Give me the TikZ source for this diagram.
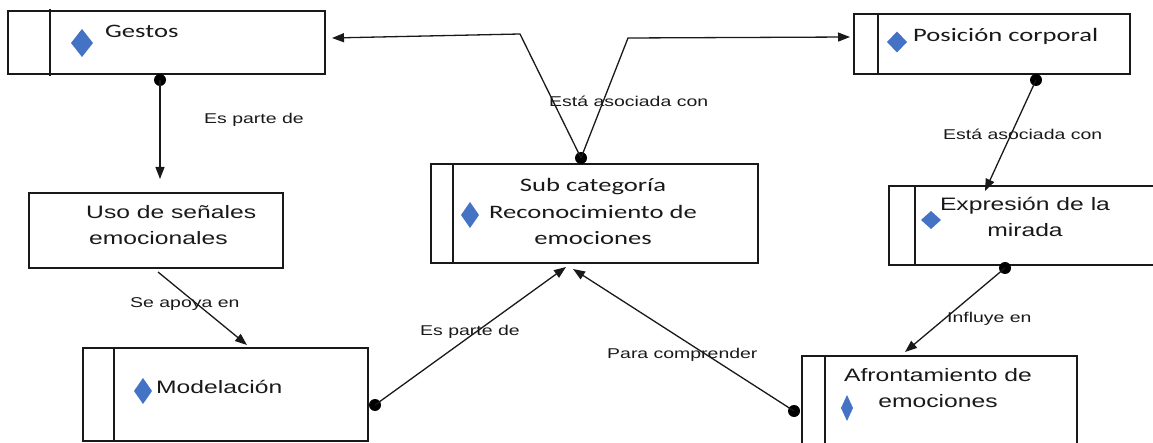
\documentclass[tikz,border=0pt]{standalone}
\usepackage{fontspec}
\usetikzlibrary{arrows.meta,shapes.geometric}
\newfontfamily\calw[FakeStretch=1.4]{Carlito}
\newfontfamily\arw[FakeStretch=1.37]{Liberation Sans}
\definecolor{dblue}{RGB}{68,114,196}
\definecolor{ink}{RGB}{25,25,25}
\begin{document}
\begin{tikzpicture}[x=1pt,y=-1pt,
  box/.style={draw=ink, line width=1.5pt, rectangle, inner sep=0pt, outer sep=0pt, anchor=north west},
  sep/.style={draw=ink, line width=1.5pt},
  gem/.style={diamond, fill=dblue, inner sep=0pt, outer sep=0pt},
  dot/.style={circle, fill=black, inner sep=0pt, minimum size=12pt},
  conn/.style={draw=ink, line width=1.3pt},
  arr/.style={conn, -{Triangle[length=12pt,width=9pt]}},
  lbl/.style={font=\arw\fontsize{14.2}{17}\selectfont, inner sep=0pt, text=ink, anchor=base west},
  cbtxt/.style={font=\calw\fontsize{19}{26.5}\selectfont, inner sep=0pt, text=ink},
  abtxt/.style={font=\arw\fontsize{18}{26}\selectfont, inner sep=0pt, text=ink}
]
\useasboundingbox (0,0) rectangle (1153,443);

% boxes
\node[box, minimum width=317pt, minimum height=63pt] (gestos) at (8,11) {};
\node[box, minimum width=276pt, minimum height=60pt] (posicion) at (854,14) {};
\node[box, minimum width=327pt, minimum height=99pt] (sub) at (431,164) {};
\node[box, minimum width=254pt, minimum height=75pt] (uso) at (29,193) {};
\node[box, minimum width=285pt, minimum height=93pt] (model) at (83,348) {};
\node[box, minimum width=280pt, minimum height=79pt] (expr) at (889,186) {};
\node[box, minimum width=275pt, minimum height=110pt] (afront) at (802,356) {};

% inner separators
\draw[sep] ([xshift=42pt,yshift=2pt]gestos.north west) -- ([xshift=42pt,yshift=-2pt]gestos.south west);
\draw[sep] ([xshift=24pt]posicion.north west) -- ([xshift=24pt]posicion.south west);
\draw[sep] ([xshift=22pt]sub.north west) -- ([xshift=22pt]sub.south west);
\draw[sep] ([xshift=31pt]model.north west) -- ([xshift=31pt]model.south west);
\draw[sep] ([xshift=26pt]expr.north west) -- ([xshift=26pt]expr.south west);
\draw[sep] ([xshift=23pt]afront.north west) -- ([xshift=23pt]afront.south west);

% diamonds
\node[gem, minimum width=22pt, minimum height=28pt] (gm1) at (82,43) {};
\node[gem, minimum width=20pt, minimum height=21pt] (gm2) at (897,42) {};
\node[gem, minimum width=18pt, minimum height=26pt] (gm3) at (470,215) {};
\node[gem, minimum width=18pt, minimum height=26pt] (gm4) at (143,391) {};
\node[gem, minimum width=20pt, minimum height=18pt] (gm5) at (931,220) {};
\node[gem, minimum width=12pt, minimum height=26pt] (gm6) at (847,408) {};

% box texts (base anchor = baseline of last line)
\node[cbtxt, anchor=base west] (tgestos) at (105,38) {Gestos};
\node[cbtxt, anchor=base west] (tpos) at (913,42) {Posición corporal};
\node[cbtxt, anchor=base, align=center] (tsub) at (593,245) {Sub categoría\\Reconocimiento de\\emociones};
\node[abtxt, anchor=base west, align=left] (tuso) at (86,245) {Uso de señales\\\,emocionales};
\node[abtxt, anchor=base west] (tmodel) at (156,393) {Modelación};
\node[abtxt, anchor=base, align=center] (texpr) at (1025,237) {Expresión de la\\mirada};
\node[abtxt, anchor=base, align=center] (tafr) at (938,407) {Afrontamiento de\\emociones};

% dots
\node[dot] (d1) at (160,80) {};
\node[dot] (d2) at (581,158) {};
\node[dot] (d3) at (1036,80) {};
\node[dot] (d4) at (1005,268) {};
\node[dot] (d5) at (375,405) {};
\node[dot] (d6) at (794,411) {};

% connector points
\coordinate (e1) at (160,179);
\coordinate (k1) at (520,34);
\coordinate (e2) at (332,38);
\coordinate (k2) at (628,38);
\coordinate (e3) at (850,37);
\coordinate (e4) at (985,191);
\coordinate (e5) at (905,352);
\coordinate (s6) at (158,272);
\coordinate (e6) at (247,345);
\coordinate (e7) at (566,267);
\coordinate (e8) at (573,269);

% connectors
\draw[arr] (d1.center) -- (e1);
\draw[arr] (d2.center) -- (k1) -- (e2);
\draw[arr] (d2.center) -- (k2) -- (e3);
\draw[arr] (d3.center) -- (e4);
\draw[arr] (d4.center) -- (e5);
\draw[arr] (s6) -- (e6);
\draw[arr] (d5.center) -- (e7);
\draw[arr] (d6.center) -- (e8);

% labels
\node[lbl] (l1) at (204,124) {Es parte de};
\node[lbl] (l2) at (549,107) {Está asociada con};
\node[lbl] (l3) at (943,140) {Está asociada con};
\node[lbl] (l4) at (947,323) {Influye en};
\node[lbl] (l5) at (130,308) {Se apoya en};
\node[lbl] (l6) at (420,335) {Es parte de};
\node[lbl] (l7) at (607,359) {Para comprender};
\end{tikzpicture}
\end{document}
